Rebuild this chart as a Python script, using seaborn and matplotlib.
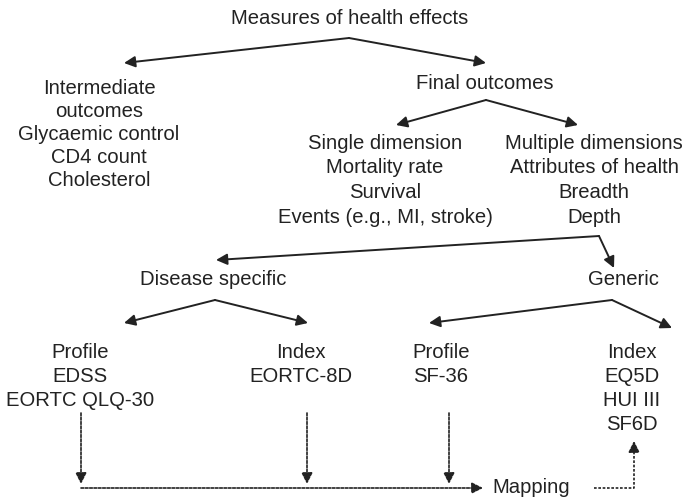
import matplotlib.pyplot as plt
import seaborn as sns

# ---------------------------------------------------------------------------
# Diagram content
# ---------------------------------------------------------------------------

root_label = ["Measures of health effects"]
intermediate_label = ["Intermediate", "outcomes", "Glycaemic control", "CD4 count", "Cholesterol"]
final_label = ["Final outcomes"]
single_label = ["Single dimension", "Mortality rate", "Survival", "Events (e.g., MI, stroke)"]
multiple_label = ["Multiple dimensions", "Attributes of health", "Breadth", "Depth"]
disease_label = ["Disease specific"]
generic_label = ["Generic"]
ds_profile_label = ["Profile", "EDSS", "EORTC QLQ-30"]
ds_index_label = ["Index", "EORTC-8D"]
gen_profile_label = ["Profile", "SF-36"]
gen_index_label = ["Index", "EQ5D", "HUI III", "SF6D"]
mapping_label = ["Mapping"]

# ---------------------------------------------------------------------------
# Layout (pixel coordinates, y downwards)
# ---------------------------------------------------------------------------

blocks = [
    (root_label, 350, 18, 0),
    (intermediate_label, 99, 88, 23),
    (final_label, 485, 83, 0),
    (single_label, 385, 143, 24.7),
    (multiple_label, 594, 143, 24.7),
    (disease_label, 213, 279, 0),
    (generic_label, 623, 279, 0),
    (ds_profile_label, 80, 352, 24),
    (ds_index_label, 301, 352, 24),
    (gen_profile_label, 441, 352, 24),
    (gen_index_label, 632, 352, 24.3),
    (mapping_label, 531, 487, 0),
]

solid_arrows = [
    ((349, 38), (124, 63)),
    ((349, 38), (486, 63)),
    ((486, 100), (396, 125)),
    ((486, 100), (578, 125)),
    ((599, 236), (216, 260)),
    ((599, 236), (614, 268)),
    ((215, 300), (124, 323)),
    ((215, 300), (308, 323)),
    ((612, 300), (429, 323)),
    ((612, 300), (672, 328)),
]

dashed_arrows = [
    ((81, 413), (81, 484)),
    ((307, 413), (307, 484)),
    ((449, 413), (449, 484)),
    ((81, 488), (483, 488)),
]

dashed_lines = [
    [(594, 488), (634, 488), (634, 452)],
]
dashed_tail_arrow = ((634, 452), (634, 441))

# ---------------------------------------------------------------------------
# Style
# ---------------------------------------------------------------------------

sns.set_theme(style="white")
plt.rcParams["font.family"] = ["Liberation Sans", "DejaVu Sans"]
ink = "#222222"
dash = (0, (1.6, 1.0))

fig, ax = plt.subplots(figsize=(6.88, 4.98), dpi=100)
ax.set_position([0, 0, 1, 1])
ax.set_xlim(0, 688)
ax.set_ylim(498, 0)
ax.axis("off")

for lines, x, y, step in blocks:
    for i, line in enumerate(lines):
        ax.text(x, y + i * step, line, ha="center", va="center",
                fontsize=14.6, color=ink)

head = "-|>,head_length=0.6,head_width=0.3"
solid_props = dict(arrowstyle=head, color=ink, lw=1.4,
                   shrinkA=0, shrinkB=0, mutation_scale=11)
for start, end in solid_arrows:
    ax.annotate("", xy=end, xytext=start, arrowprops=solid_props)

dashed_props = dict(arrowstyle=head, color=ink, lw=1.2, linestyle=dash,
                    shrinkA=0, shrinkB=0, mutation_scale=11)
for start, end in dashed_arrows:
    ax.annotate("", xy=end, xytext=start, arrowprops=dashed_props)

for path in dashed_lines:
    xs = [p[0] for p in path]
    ys = [p[1] for p in path]
    ax.plot(xs, ys, color=ink, lw=1.2, linestyle=dash)
ax.annotate("", xy=dashed_tail_arrow[1], xytext=dashed_tail_arrow[0],
            arrowprops=dashed_props)

fig.savefig("out.png", dpi=100)
plt.close(fig)
